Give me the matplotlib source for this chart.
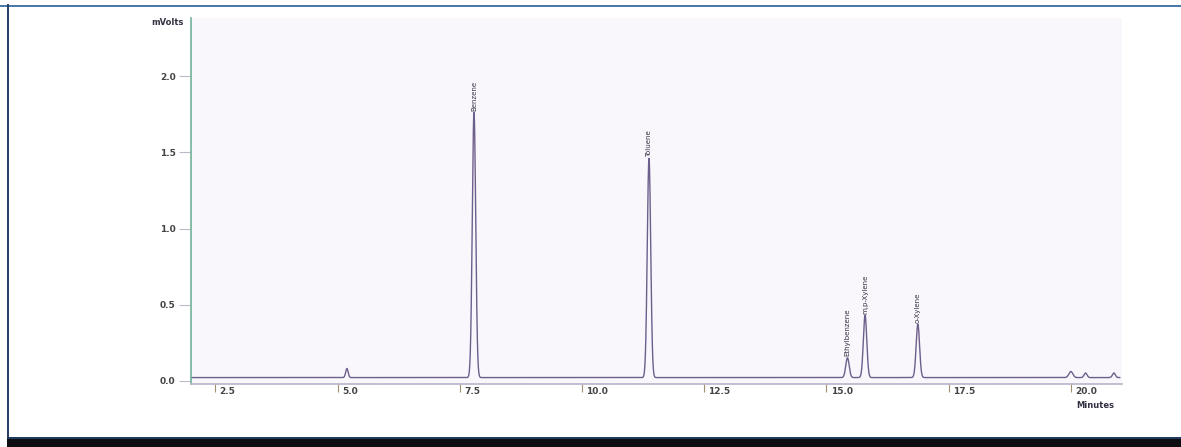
import numpy as np
import matplotlib.pyplot as plt
from matplotlib.patches import Rectangle
from matplotlib.transforms import ScaledTranslation

# peak table (retention time in min, height in mV)
peak_names = ["", "Benzene", "Toluene", "Ethylbenzene", "m,p-Xylene", "o-Xylene", "", "", ""]
peak_times = [5.19, 7.79, 11.37, 15.43, 15.79, 16.87, 20.0, 20.3, 20.88]
peak_heights = [0.06, 1.74, 1.44, 0.13, 0.41, 0.35, 0.04, 0.03, 0.03]
peak_widths = [0.025, 0.035, 0.035, 0.035, 0.035, 0.035, 0.04, 0.03, 0.03]
baseline_mv = 0.022

x_ticks = [2.5, 5.0, 7.5, 10.0, 12.5, 15.0, 17.5, 20.0]
y_ticks = [0.0, 0.5, 1.0, 1.5, 2.0]

t = np.linspace(2.0, 21.0, 6000)
signal = np.full_like(t, baseline_mv)
for rt, h, w in zip(peak_times, peak_heights, peak_widths):
    signal += h * np.exp(-0.5 * ((t - rt) / w) ** 2)

fig = plt.figure(figsize=(11.81, 4.47), dpi=100)
ax = fig.add_axes([0.1617, 0.141, 0.7885, 0.818])

# scanned-paper tint
ax.set_facecolor('#f9f7fb')
ax.plot(t, signal, color='#6d5f8c', lw=1.0)

for name, rt, h in zip(peak_names, peak_times, peak_heights):
    if name:
        ax.text(rt, h + baseline_mv + 0.01, name, rotation=90, ha='center', va='bottom',
                fontsize=5, color='#333344')

ax.set_xlim(2.0, 21.05)
ax.set_ylim(-0.02, 2.38)
ax.set_xticks(x_ticks)
ax.set_xticklabels([f"{v:.1f}" for v in x_ticks], fontsize=6.5, color='#444444',
                   ha='left', fontweight='bold')
ax.set_yticks(y_ticks)
ax.set_yticklabels([f"{v:.1f}" for v in y_ticks], fontsize=6.5, color='#444444',
                   fontweight='bold')
ax.tick_params(axis='x', length=6, color='#a09070', pad=-4)
ax.tick_params(axis='y', length=9, color='#bbbbcc', pad=2)
# labels sit just right of their tick, as on the printout
shift = ScaledTranslation(3 / 72, 0, fig.dpi_scale_trans)
for lab in ax.get_xticklabels():
    lab.set_transform(lab.get_transform() + shift)

for side in ['top', 'right']:
    ax.spines[side].set_visible(False)
ax.spines['left'].set_color('#6fb39a')
ax.spines['left'].set_linewidth(1.2)
ax.spines['bottom'].set_color('#b8b4c8')
ax.spines['bottom'].set_linewidth(1.2)

fig.text(0.142, 0.945, "mVolts", fontsize=6, color='#333344', fontweight='bold', ha='center')
fig.text(0.927, 0.088, "Minutes", fontsize=6, color='#333344', fontweight='bold', ha='center')

# page frame around the scan
fig.add_artist(Rectangle((0.0, 0.985), 1.0, 0.004, transform=fig.transFigure,
                         color='#4a7aaa', lw=0))
fig.add_artist(Rectangle((0.006, 0.02), 0.0015, 0.97, transform=fig.transFigure,
                         color='#2a3f6a', lw=0))
fig.add_artist(Rectangle((0.006, 0.0), 0.994, 0.02, transform=fig.transFigure,
                         color='#0d0d12', lw=0))
fig.add_artist(Rectangle((0.006, 0.018), 0.994, 0.005, transform=fig.transFigure,
                         color='#1f3a5f', lw=0))

fig.savefig("out.png", dpi=100)
